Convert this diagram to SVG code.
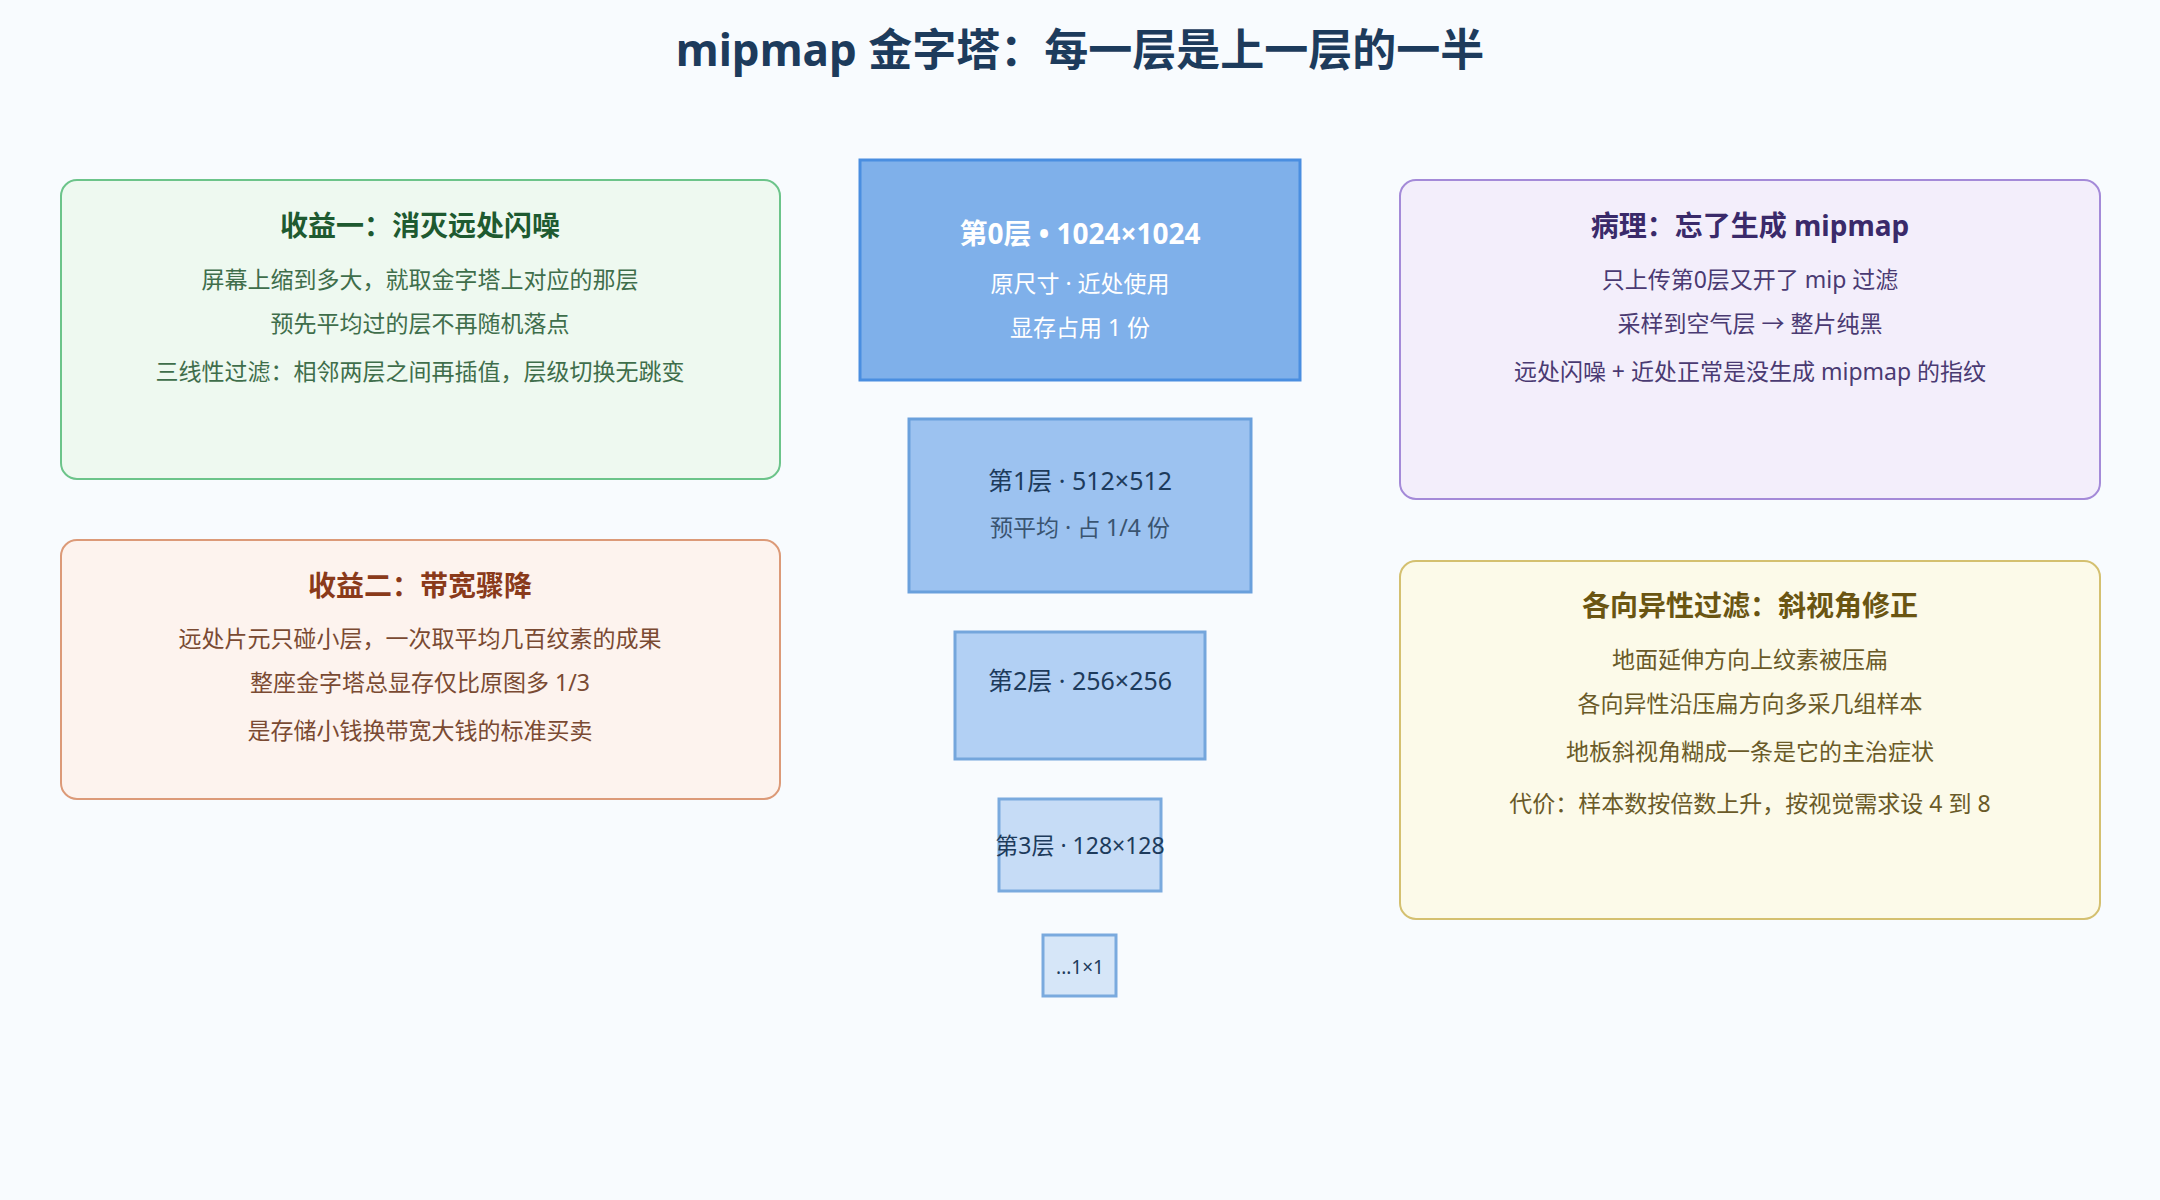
<svg xmlns="http://www.w3.org/2000/svg" width="2160" height="1200" viewBox="0 0 2160 1200">
<style>
text{font-family:"Noto Sans","Noto Sans CJK SC",sans-serif;text-anchor:middle}
.t{font-size:28px;font-weight:bold}
.l{font-size:23px}
.lay{stroke-width:3}
</style>
<rect width="2160" height="1200" fill="#f8fbfe"/>
<text x="1080" y="66" font-size="44" font-weight="bold" fill="#1d3b5c">mipmap 金字塔：每一层是上一层的一半</text>
<g id="gain1">
<rect x="61" y="180" width="719" height="299" rx="16" fill="#eef9f0" stroke="#6cc48a" stroke-width="2"/>
<text class="t" x="420" y="236" fill="#1e5a30">收益一：消灭远处闪噪</text>
<text class="l" x="420" y="288" fill="#3f6e4b">屏幕上缩到多大，就取金字塔上对应的那层</text>
<text class="l" x="420" y="332" fill="#3f6e4b">预先平均过的层不再随机落点</text>
<text class="l" x="420" y="380" fill="#3f6e4b">三线性过滤：相邻两层之间再插值，层级切换无跳变</text>
</g>
<g id="gain2">
<rect x="61" y="540" width="719" height="259" rx="16" fill="#fdf3ee" stroke="#dc9a78" stroke-width="2"/>
<text class="t" x="420" y="596" fill="#8a3a1a">收益二：带宽骤降</text>
<text class="l" x="420" y="647" fill="#7a4a32">远处片元只碰小层，一次取平均几百纹素的成果</text>
<text class="l" x="420" y="691" fill="#7a4a32">整座金字塔总显存仅比原图多 1/3</text>
<text class="l" x="420" y="739" fill="#7a4a32">是存储小钱换带宽大钱的标准买卖</text>
</g>
<g id="patho">
<rect x="1400" y="180" width="700" height="319" rx="16" fill="#f3eefb" stroke="#a48ad8" stroke-width="2"/>
<text class="t" x="1750" y="236" fill="#3a2a6a">病理：忘了生成 mipmap</text>
<text class="l" x="1750" y="288" fill="#4a3a72">只上传第0层又开了 mip 过滤</text>
<text class="l" x="1750" y="332" fill="#4a3a72">采样到空气层 → 整片纯黑</text>
<text class="l" x="1750" y="380" fill="#4a3a72">远处闪噪 + 近处正常是没生成 mipmap 的指纹</text>
</g>
<g id="aniso">
<rect x="1400" y="561" width="700" height="358" rx="16" fill="#fcfae9" stroke="#d4c070" stroke-width="2"/>
<text class="t" x="1750" y="616" fill="#6a5512">各向异性过滤：斜视角修正</text>
<text class="l" x="1750" y="668" fill="#6a5a28">地面延伸方向上纹素被压扁</text>
<text class="l" x="1750" y="712" fill="#6a5a28">各向异性沿压扁方向多采几组样本</text>
<text class="l" x="1750" y="760" fill="#6a5a28">地板斜视角糊成一条是它的主治症状</text>
<text class="l" x="1750" y="812" fill="#6a5a28">代价：样本数按倍数上升，按视觉需求设 4 到 8</text>
</g>
<g id="L0">
<rect class="lay" x="860" y="160" width="440" height="220" fill="#7fb0ea" stroke="#4a8ee0"/>
<text x="1080" y="244" font-size="28" font-weight="bold" fill="#fff">第0层 • 1024×1024</text>
<text class="l" x="1080" y="292" fill="#fff">原尺寸 · 近处使用</text>
<text class="l" x="1080" y="336" fill="#fff">显存占用 1 份</text>
</g>
<g id="L1">
<rect class="lay" x="909" y="419" width="342" height="173" fill="#9cc2f0" stroke="#6aa0dc"/>
<text x="1080" y="490" font-size="25" fill="#1d3b5c">第1层 · 512×512</text>
<text class="l" x="1080" y="536" fill="#3a5470">预平均 · 占 1/4 份</text>
</g>
<g id="L2">
<rect class="lay" x="955" y="632" width="250" height="127" fill="#b2d0f4" stroke="#74a6dc"/>
<text x="1080" y="690" font-size="25" fill="#1d3b5c">第2层 · 256×256</text>
</g>
<g id="L3">
<rect class="lay" x="999" y="799" width="162" height="92" fill="#c6dcf6" stroke="#7aaade"/>
<text x="1080" y="854" font-size="23" fill="#1d3b5c">第3层 · 128×128</text>
</g>
<g id="L4">
<rect class="lay" x="1043" y="935" width="73" height="61" fill="#d6e6f8" stroke="#7aaade"/>
<text x="1080" y="974" font-size="19" fill="#1d3b5c">...1×1</text>
</g>
<g id="connectors"/>
</svg>
